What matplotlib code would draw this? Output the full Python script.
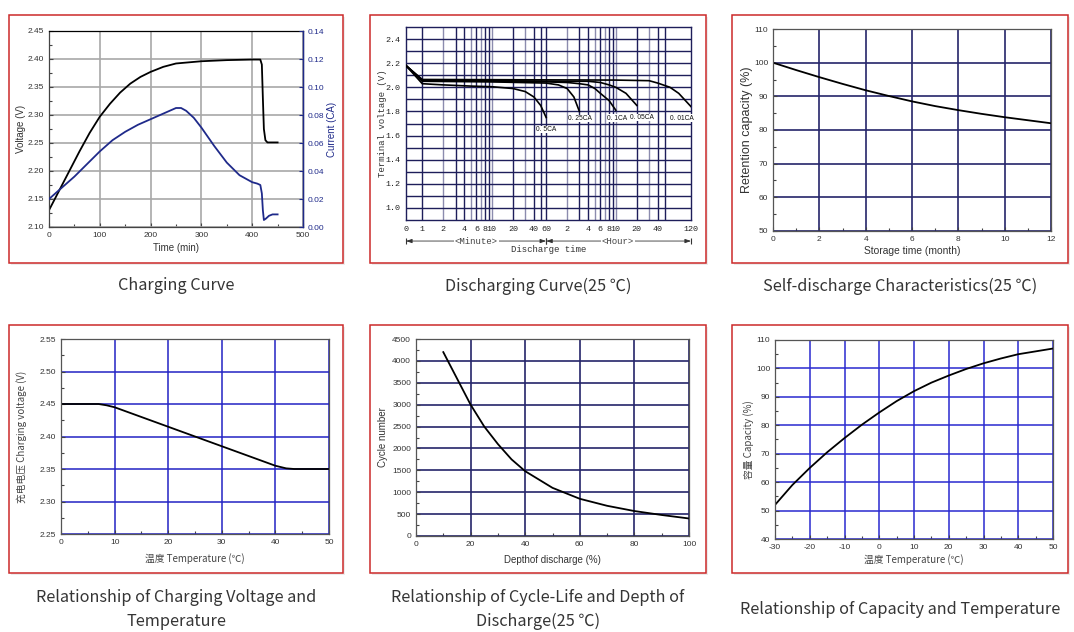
import numpy as np
import matplotlib
matplotlib.use('Agg')
import matplotlib.pyplot as plt
from matplotlib.patches import Rectangle
from matplotlib.ticker import MultipleLocator, FormatStrFormatter, FixedLocator

W, H = 1074, 632

# ---- data: charging curve
chg_t = [0, 20, 40, 60, 80, 100, 120, 140, 160, 180, 200, 225, 250, 275, 300, 350, 400, 416, 419, 421, 423, 426, 430, 450]
chg_v = [2.130, 2.165, 2.200, 2.235, 2.268, 2.297, 2.320, 2.340, 2.356, 2.368, 2.377, 2.386, 2.392, 2.394,
         2.396, 2.398, 2.399, 2.399, 2.390, 2.330, 2.275, 2.255, 2.251, 2.251]
cur_t = [0, 25, 50, 75, 100, 125, 150, 175, 200, 225, 250, 260, 270, 285, 300, 325, 350, 375, 400, 410,
         416, 419, 421, 423, 427, 433, 440, 450]
cur_a = [0.020, 0.028, 0.036, 0.045, 0.054, 0.062, 0.068, 0.073, 0.077, 0.081, 0.085, 0.085, 0.083, 0.078,
         0.071, 0.058, 0.046, 0.037, 0.032, 0.031, 0.030, 0.024, 0.012, 0.005, 0.006, 0.008, 0.009, 0.009]

# ---- data: discharge curves (time in minutes)
dis_curves = {
    '0.5CA': ([0, 1, 2, 5, 10, 20, 30, 40, 50, 60],
              [2.18, 2.03, 2.02, 2.01, 2.005, 1.99, 1.965, 1.92, 1.85, 1.75]),
    '0.25CA': ([0, 1, 10, 60, 90, 120, 150, 180],
               [2.18, 2.05, 2.045, 2.035, 2.02, 1.99, 1.92, 1.80]),
    '0.1CA': ([0, 1, 60, 120, 180, 240, 300, 360, 480, 600],
              [2.18, 2.055, 2.045, 2.04, 2.03, 2.02, 1.99, 1.95, 1.89, 1.81]),
    '0.05CA': ([0, 1, 120, 240, 360, 480, 600, 840, 1200],
               [2.18, 2.06, 2.05, 2.05, 2.04, 2.02, 2.0, 1.95, 1.85]),
    '0.01CA': ([0, 1, 600, 1800, 2400, 3600, 4800, 7200],
               [2.18, 2.065, 2.06, 2.055, 2.035, 2.0, 1.95, 1.84]),
}
dis_label_pos = {'0.5CA': (60, 1.65), '0.25CA': (184, 1.74), '0.1CA': (630, 1.745),
                 '0.05CA': (1400, 1.75), '0.01CA': (5300, 1.745)}
dis_ticks = [0, 1, 2, 4, 6, 8, 10, 20, 40, 60, 120, 240, 360, 480, 600, 1200, 2400, 7200]
dis_ticklabels = ['0', '1', '2', '4', '6', '8', '10', '20', '40', '60',
                  '2', '4', '6', '8', '10', '20', '40', '120']
dis_grid_dark = [1, 3, 4, 6, 8, 9, 20, 40, 50, 60, 180, 240, 360, 480, 540, 1200, 2400, 3000]
dis_grid_light = [2, 5, 7, 10, 30, 120, 300, 420, 600, 1800]

# ---- data: self discharge
sd_month = [0, 1, 2, 3, 4, 5, 6, 7, 8, 9, 10, 11, 12]
sd_cap = [100, 97.8, 95.7, 93.7, 91.8, 90.1, 88.5, 87.1, 85.9, 84.8, 83.8, 82.9, 82.0]

# ---- data: charging voltage vs temperature
cv_temp = [0, 7, 8.5, 10, 20, 30, 40, 42, 43.5, 50]
cv_volt = [2.45, 2.45, 2.448, 2.445, 2.415, 2.385, 2.355, 2.351, 2.35, 2.35]

# ---- data: cycle life vs DOD
dod = [10, 15, 20, 25, 30, 35, 40, 50, 60, 70, 80, 90, 100]
cycles = [4200, 3600, 3000, 2500, 2100, 1750, 1480, 1100, 850, 690, 570, 480, 400]

# ---- data: capacity vs temperature
ct_temp = [-30, -25, -20, -15, -10, -5, 0, 5, 10, 15, 20, 25, 30, 35, 40, 45, 50]
ct_cap = [52, 59, 65, 70.5, 75.5, 80.2, 84.5, 88.5, 92, 95, 97.5, 99.8, 101.8, 103.5, 105, 106, 107]

captions = ['Charging Curve', 'Discharging Curve(25 \u2103)', 'Self-discharge Characteristics(25 \u2103)',
            'Relationship of Charging Voltage and\nTemperature',
            'Relationship of Cycle-Life and Depth of\nDischarge(25 \u2103)',
            'Relationship of Capacity and Temperature']

SANS = ['Liberation Sans', 'DejaVu Sans']
CJK = ['Noto Sans CJK SC', 'DejaVu Sans']
MONO = ['Liberation Mono', 'DejaVu Sans Mono']
plt.rcParams['font.family'] = SANS
plt.rcParams['axes.unicode_minus'] = False

fig = plt.figure(figsize=(W / 100, H / 100), dpi=100)
fig.patch.set_facecolor('white')

boxes = [(9, 15, 343, 263), (370, 15, 706, 263), (732, 15, 1068, 263),
         (9, 325, 343, 573), (370, 325, 706, 573), (732, 325, 1068, 573)]
for (l, t, r, b), cap in zip(boxes, captions):
    fig.add_artist(Rectangle(((l + 2) / W, 1 - (b + 2) / H), (r - l) / W, (b - t) / H,
                             transform=fig.transFigure, facecolor='#ececec', edgecolor='none', zorder=-2))
    fig.add_artist(Rectangle((l / W, 1 - b / H), (r - l) / W, (b - t) / H,
                             transform=fig.transFigure, facecolor='white', edgecolor='#cc2a2a',
                             lw=1.1, zorder=-1))
    cy = 286 if t < 100 else 609.5
    fig.text((l + r) / 2 / W, 1 - cy / H, cap, ha='center', va='center', fontsize=11.7,
             family=CJK, color='#353535', linespacing=1.48)


def px_axes(l, t, r, b):
    return fig.add_axes([l / W, 1 - b / H, (r - l) / W, (b - t) / H])


def style(ax, grid_color, gridlw=1.1, spine='#444444'):
    for s in ax.spines.values():
        s.set_color(spine)
        s.set_linewidth(0.9)
    ax.tick_params(which='both', direction='in', labelsize=6, colors='#444444', labelcolor='#333333')
    ax.tick_params(which='major', length=3, width=0.8)
    ax.tick_params(which='minor', length=2, width=0.8)
    ax.grid(True, which='major', color=grid_color, lw=gridlw)
    ax.set_axisbelow(True)


# ---------------- Panel 1: charging curve
ax1 = px_axes(49, 31, 303, 227)
ax1.plot(chg_t, chg_v, color='black', lw=1.3)
ax1.set_xlim(0, 500)
ax1.set_ylim(2.10, 2.45)
ax1.xaxis.set_major_locator(MultipleLocator(100))
ax1.xaxis.set_minor_locator(MultipleLocator(50))
ax1.yaxis.set_major_locator(MultipleLocator(0.05))
ax1.yaxis.set_minor_locator(MultipleLocator(0.025))
ax1.yaxis.set_major_formatter(FormatStrFormatter('%.2f'))
style(ax1, '#a8a8a8', 1.2)
ax1.spines['top'].set_color('black')
ax1.set_xlabel('Time (min)', fontsize=7, color='#333333')
ax1.set_ylabel('Voltage (V)', fontsize=7, color='#333333')
ax1.xaxis.set_label_coords(0.5, -0.082)
ax1.yaxis.set_label_coords(-0.089, 0.5)
ax1b = ax1.twinx()
ax1b.plot(cur_t, cur_a, color='#1f2a8a', lw=1.3)
ax1b.set_ylim(0, 0.14)
ax1b.yaxis.set_major_locator(MultipleLocator(0.02))
ax1b.yaxis.set_major_formatter(FormatStrFormatter('%.2f'))
ax1b.tick_params(direction='in', labelsize=6, colors='#1f2a8a', length=3)
ax1b.spines['right'].set_color('#1f2a8a')
ax1b.spines['right'].set_linewidth(1.0)
for s in ['left', 'top', 'bottom']:
    ax1b.spines[s].set_visible(False)
ax1b.set_ylabel('Current (CA)', fontsize=7, color='#1f2a8a')
ax1b.yaxis.set_label_coords(1.093, 0.5)

# ---------------- Panel 2: discharge curves
DEC = 4.28


def fwd(t):
    t = np.asarray(t, dtype=float)
    return np.where(t < 1, t, 1 + DEC * np.log10(np.maximum(t, 1)))


def inv(y):
    y = np.asarray(y, dtype=float)
    return np.where(y < 1, y, 10 ** ((np.maximum(y, 1) - 1) / DEC))


ax2 = px_axes(406, 27, 691, 220)
ax2.set_xscale('function', functions=(fwd, inv))
ax2.set_xlim(0, 7200)
ax2.set_ylim(0.9, 2.5)
for g in dis_grid_dark:
    ax2.axvline(g, color='#1e1e5a', lw=1.0, zorder=0)
for g in dis_grid_light:
    ax2.axvline(g, color='#8c8cae', lw=1.0, zorder=0)
for v in np.arange(1.0, 2.45, 0.1):
    ax2.axhline(v, color='#1e1e5a', lw=1.0, zorder=0)
for name, (t, v) in dis_curves.items():
    ax2.plot(t, v, color='black', lw=1.2, zorder=3)
    lx, ly = dis_label_pos[name]
    ax2.text(lx, ly, name[:2] + ' ' + name[2:], fontsize=4.8, ha='center', va='center',
             zorder=4, color='#111111', bbox=dict(facecolor='white', edgecolor='none', pad=0.2))
ax2.xaxis.set_major_locator(FixedLocator(dis_ticks))
ax2.set_xticklabels(dis_ticklabels)
ax2.xaxis.set_minor_locator(FixedLocator([]))
ax2.yaxis.set_major_locator(FixedLocator([1.0, 1.2, 1.4, 1.6, 1.8, 2.0, 2.2, 2.4]))
ax2.yaxis.set_major_formatter(FormatStrFormatter('%.1f'))
ax2.tick_params(length=0, labelsize=6, labelcolor='#222222', pad=4)
for lab in ax2.get_xticklabels() + ax2.get_yticklabels():
    lab.set_family(MONO)
for s in ax2.spines.values():
    s.set_color('#1e1e5a')
    s.set_linewidth(1.0)
ax2.set_ylabel('Terminal voltage (V)', fontsize=6.5, family=MONO, color='#333333')
ax2.yaxis.set_label_coords(-0.067, 0.5)
trans = ax2.get_xaxis_transform()
ya = -0.109
for x0, x1, xm, lab in [(0, 60, 6, '<Minute>'), (60, 7200, 640, '<Hour>')]:
    ax2.annotate('', xy=(x0, ya), xytext=(x1, ya), xycoords=trans, textcoords=trans,
                 arrowprops=dict(arrowstyle='<|-|>,head_length=0.35,head_width=0.12', color='#333333',
                                 lw=0.6, shrinkA=0, shrinkB=0))
    ax2.plot([x0, x1], [ya, ya], transform=trans, marker='|', ms=5, mew=0.8, ls='none',
             color='#333333', clip_on=False)
    ax2.text(xm, ya, lab, transform=trans, fontsize=6.5, family=MONO, ha='center', va='center',
             color='#444444', bbox=dict(facecolor='white', edgecolor='none', pad=0.5))
ax2.text(0.5, -0.155, 'Discharge time', transform=ax2.transAxes, fontsize=6.5, family=MONO,
         ha='center', va='center', color='#333333')

# ---------------- Panel 3: self discharge
ax3 = px_axes(773, 29, 1051, 231)
ax3.plot(sd_month, sd_cap, color='black', lw=1.3)
ax3.set_xlim(0, 12)
ax3.set_ylim(50, 110)
ax3.xaxis.set_major_locator(MultipleLocator(2))
ax3.xaxis.set_minor_locator(MultipleLocator(1))
ax3.yaxis.set_major_locator(MultipleLocator(10))
ax3.yaxis.set_minor_locator(MultipleLocator(5))
style(ax3, '#25256a', 1.2, spine='#555555')
ax3.set_xlabel('Storage time (month)', fontsize=7.4, color='#333333')
ax3.set_ylabel('Retention capacity (%)', fontsize=9, color='#333333')
ax3.xaxis.set_label_coords(0.5, -0.074)
ax3.yaxis.set_label_coords(-0.072, 0.5)

# ---------------- Panel 4: charging voltage vs temperature
ax4 = px_axes(61, 339, 329, 534)
ax4.plot(cv_temp, cv_volt, color='black', lw=1.3)
ax4.set_xlim(0, 50)
ax4.set_ylim(2.25, 2.55)
ax4.xaxis.set_major_locator(MultipleLocator(10))
ax4.xaxis.set_minor_locator(MultipleLocator(5))
ax4.yaxis.set_major_locator(MultipleLocator(0.05))
ax4.yaxis.set_minor_locator(MultipleLocator(0.025))
ax4.yaxis.set_major_formatter(FormatStrFormatter('%.2f'))
style(ax4, '#2323c4', 1.1, spine='#555555')
ax4.set_xlabel('温度 Temperature (\u2103)', fontsize=7, family=CJK, color='#444444')
ax4.set_ylabel('充电电压 Charging voltage (V)', fontsize=7, family=CJK, color='#444444')
ax4.xaxis.set_label_coords(0.5, -0.097)
ax4.yaxis.set_label_coords(-0.125, 0.5)

# ---------------- Panel 5: cycle life
ax5 = px_axes(416, 339, 689, 536)
ax5.plot(dod, cycles, color='black', lw=1.3)
ax5.set_xlim(0, 100)
ax5.set_ylim(0, 4500)
ax5.xaxis.set_major_locator(MultipleLocator(20))
ax5.xaxis.set_minor_locator(MultipleLocator(10))
ax5.yaxis.set_major_locator(MultipleLocator(500))
ax5.yaxis.set_minor_locator(MultipleLocator(250))
style(ax5, '#25256a', 1.2, spine='#555555')
ax5.set_xlabel('Depthof discharge (%)', fontsize=7, color='#333333')
ax5.set_ylabel('Cycle number', fontsize=7, color='#333333')
ax5.xaxis.set_label_coords(0.5, -0.096)
ax5.yaxis.set_label_coords(-0.104, 0.5)

# ---------------- Panel 6: capacity vs temperature
ax6 = px_axes(775, 340, 1053, 539)
ax6.plot(ct_temp, ct_cap, color='black', lw=1.3)
ax6.set_xlim(-30, 50)
ax6.set_ylim(40, 110)
ax6.xaxis.set_major_locator(MultipleLocator(10))
ax6.xaxis.set_minor_locator(MultipleLocator(5))
ax6.yaxis.set_major_locator(MultipleLocator(10))
ax6.yaxis.set_minor_locator(MultipleLocator(5))
style(ax6, '#2a2ad0', 1.1, spine='#555555')
ax6.set_xlabel('温度 Temperature (\u2103)', fontsize=7, family=CJK, color='#444444')
ax6.set_ylabel('容量 Capacity (%)', fontsize=7, family=CJK, color='#444444')
ax6.xaxis.set_label_coords(0.5, -0.075)
ax6.yaxis.set_label_coords(-0.077, 0.5)

fig.savefig('out.png', dpi=100, facecolor='white')
